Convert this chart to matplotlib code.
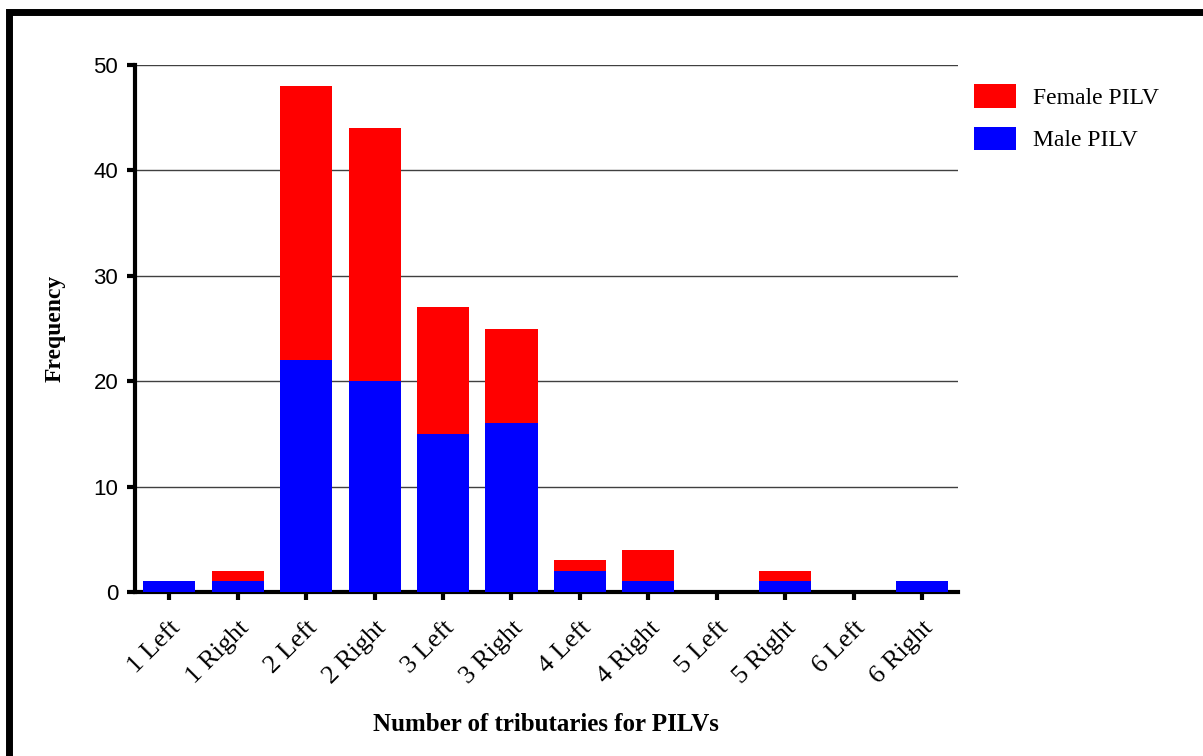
import matplotlib

matplotlib.use("Agg")
import matplotlib.pyplot as plt
from matplotlib.patches import Rectangle
import numpy as np

categories = ["1 Left", "1 Right", "2 Left", "2 Right", "3 Left", "3 Right",
              "4 Left", "4 Right", "5 Left", "5 Right", "6 Left", "6 Right"]
male = [1, 1, 22, 20, 15, 16, 2, 1, 0, 1, 0, 1]
female = [0, 1, 26, 24, 12, 9, 1, 3, 0, 1, 0, 0]
yticks = [0, 10, 20, 30, 40, 50]

SERIF = "Liberation Serif"
SANS = "Liberation Sans"


def main():
    fig = plt.figure(figsize=(12.03, 7.56), dpi=100)
    ax = fig.add_axes([0.1122, 0.2169, 0.684, 0.697])

    x = np.arange(len(categories))
    w = 0.76
    ax.bar(x, male, w, color="#0000FF", label="Male PILV", zorder=3)
    ax.bar(x, female, w, bottom=male, color="#FF0000", label="Female PILV", zorder=3)

    ax.set_xlim(-0.5, 11.52)
    ax.set_ylim(0, 50)
    ax.set_yticks(yticks)
    ax.set_yticklabels([str(v) for v in yticks], fontfamily=SANS, fontsize=16)
    ax.set_xticks(x)
    ax.set_xticklabels(categories, fontfamily=SERIF, fontsize=19, rotation=45,
                       ha="right", va="top", rotation_mode="anchor")

    ax.grid(axis="y", color="#404040", lw=1, zorder=1)
    for s in ["top", "right"]:
        ax.spines[s].set_visible(False)
    ax.spines["left"].set_linewidth(3)
    ax.spines["bottom"].set_linewidth(3)
    ax.tick_params(axis="both", length=6, width=3, direction="out", pad=6)
    ax.tick_params(axis="x", pad=12)

    ax.set_ylabel("Frequency", fontfamily=SERIF, fontweight="bold", fontsize=17, labelpad=20)
    ax.set_xlabel("Number of tributaries for PILVs", fontfamily=SERIF, fontweight="bold",
                  fontsize=18, labelpad=18)

    handles, labels = ax.get_legend_handles_labels()
    ax.legend(handles[::-1], labels[::-1], loc="upper left", bbox_to_anchor=(1.0, 0.995),
              frameon=False, prop={"family": SERIF, "size": 17},
              handlelength=1.75, handleheight=1.15, handletextpad=0.75, labelspacing=0.75,
              borderaxespad=0.3)

    frame = Rectangle((8.5 / 1203, -0.2), 1.2, 1.2 - 12 / 756, transform=fig.transFigure,
                      fill=False, lw=5, edgecolor="black", clip_on=False)
    fig.patches.append(frame)

    fig.savefig("out.png", dpi=100)


if __name__ == "__main__":
    main()
